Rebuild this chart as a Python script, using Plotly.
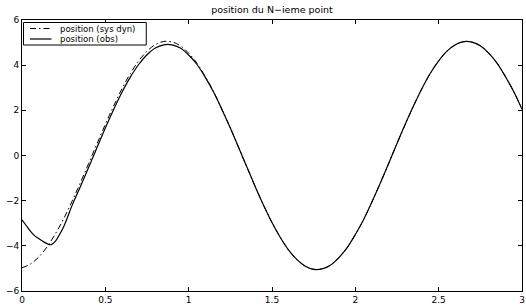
import plotly.graph_objects as go

# time samples and values
x_dyn = [0.00, 0.05, 0.10, 0.15, 0.20, 0.25, 0.30, 0.35, 0.40, 0.45, 0.50, 0.55, 0.60, 0.65,
         0.70, 0.75, 0.80, 0.85, 0.90, 0.95, 1.00, 1.05, 1.10, 1.15, 1.20, 1.25, 1.30, 1.35,
         1.40, 1.45, 1.50, 1.55, 1.60, 1.65, 1.70, 1.75, 1.80, 1.85, 1.90, 1.95, 2.00, 2.05,
         2.10, 2.15, 2.20, 2.25, 2.30, 2.35, 2.40, 2.45, 2.50, 2.55, 2.60, 2.65, 2.70, 2.75,
         2.80, 2.85, 2.90, 2.95, 3.00]
y_dyn = [-4.97, -4.81, -4.50, -4.05, -3.47, -2.80, -2.03, -1.21, -0.35, 0.52, 1.38, 2.19,
         2.96, 3.63, 4.19, 4.62, 4.91, 5.05, 5.03, 4.86, 4.53, 4.08, 3.49, 2.82, 2.04, 1.22,
         0.35, -0.52, -1.39, -2.21, -2.97, -3.63, -4.19, -4.61, -4.90, -5.04, -5.02, -4.86,
         -4.53, -4.09, -3.50, -2.83, -2.05, -1.22, -0.35, 0.53, 1.39, 2.21, 2.97, 3.64, 4.19,
         4.62, 4.90, 5.04, 5.02, 4.86, 4.53, 4.09, 3.50, 2.83, 2.05]

x_obs = [0.00, 0.025, 0.05, 0.075, 0.10, 0.125, 0.15, 0.175, 0.20, 0.225, 0.25, 0.275, 0.30,
         0.35, 0.40, 0.45, 0.50, 0.55, 0.60, 0.65, 0.70, 0.75, 0.80, 0.85, 0.90, 0.95, 1.00,
         1.05, 1.10, 1.15, 1.20, 1.25, 1.30, 1.35, 1.40, 1.45, 1.50, 1.55, 1.60, 1.65, 1.70,
         1.75, 1.80, 1.85, 1.90, 1.95, 2.00, 2.05, 2.10, 2.15, 2.20, 2.25, 2.30, 2.35, 2.40,
         2.45, 2.50, 2.55, 2.60, 2.65, 2.70, 2.75, 2.80, 2.85, 2.90, 2.95, 3.00]
y_obs = [-2.85, -3.10, -3.35, -3.55, -3.68, -3.80, -3.90, -3.95, -3.80, -3.50, -3.15, -2.70,
         -2.22, -1.38, -0.52, 0.35, 1.22, 2.04, 2.80, 3.47, 4.03, 4.46, 4.76, 4.90, 4.90, 4.76,
         4.45, 4.03, 3.46, 2.80, 2.03, 1.22, 0.35, -0.52, -1.39, -2.21, -2.97, -3.63, -4.19,
         -4.61, -4.90, -5.04, -5.02, -4.86, -4.53, -4.09, -3.50, -2.83, -2.05, -1.22, -0.35,
         0.53, 1.39, 2.21, 2.97, 3.64, 4.19, 4.62, 4.90, 5.04, 5.02, 4.86, 4.53, 4.09, 3.50,
         2.83, 2.05]

x_ticks = [0, 0.5, 1, 1.5, 2, 2.5, 3]
x_tick_labels = ["0", "0.5", "1", "1.5", "2", "2.5", "3"]
y_ticks = [-6, -4, -2, 0, 2, 4, 6]
y_tick_labels = ["\u22126", "\u22124", "\u22122", "0", "2", "4", "6"]

title_text = "position du N\u2212ieme point"
name_dyn = "position (sys dyn)"
name_obs = "position (obs)"

FONT = "DejaVu Sans"
DASHDOT = "6px,3px,1.5px,3px"

fig = go.Figure()
fig.add_trace(go.Scatter(x=x_dyn, y=y_dyn, mode="lines", name=name_dyn,
                         line=dict(color="black", width=1, dash=DASHDOT),
                         line_shape="spline", showlegend=False))
fig.add_trace(go.Scatter(x=x_obs, y=y_obs, mode="lines", name=name_obs,
                         line=dict(color="black", width=1.2), line_shape="spline",
                         showlegend=False))

axis_common = dict(showgrid=False, zeroline=False, showline=True, linecolor="black",
                   linewidth=1, mirror="ticks", ticks="inside", ticklen=4,
                   tickcolor="black", automargin=False, ticklabeloverflow="allow",
                   tickfont=dict(family=FONT, size=9, color="black"))
fig.update_xaxes(range=[0, 3], tickvals=x_ticks, ticktext=x_tick_labels, **axis_common)
fig.update_yaxes(range=[-6, 6], tickvals=y_ticks, ticktext=y_tick_labels, **axis_common)

# hand-drawn MATLAB-style legend box (paper coordinates of the plot area)
leg_x0, leg_x1, leg_y0, leg_y1 = 0.003, 0.2485, 0.9077, 0.9908
row_y = [0.9686, 0.9299]
sample_x0, sample_x1, text_x = 0.016, 0.059, 0.072
shapes = [dict(type="rect", xref="paper", yref="paper", x0=leg_x0, x1=leg_x1,
               y0=leg_y0, y1=leg_y1, line=dict(color="black", width=1),
               fillcolor="white", layer="above")]
shapes.append(dict(type="line", xref="paper", yref="paper", x0=sample_x0, x1=sample_x1,
                   y0=row_y[0], y1=row_y[0], line=dict(color="black", width=1, dash=DASHDOT),
                   layer="above"))
shapes.append(dict(type="line", xref="paper", yref="paper", x0=sample_x0, x1=sample_x1,
                   y0=row_y[1], y1=row_y[1], line=dict(color="black", width=1.2),
                   layer="above"))
annotations = [dict(xref="paper", yref="paper", x=text_x, y=ry, text=t, showarrow=False,
                    xanchor="left", yanchor="middle",
                    font=dict(family=FONT, size=8.5, color="black"))
               for ry, t in zip(row_y, [name_dyn, name_obs])]

fig.update_layout(
    width=526, height=305,
    margin=dict(l=22, r=4, t=20, b=14, autoexpand=False),
    paper_bgcolor="white", plot_bgcolor="white",
    title=dict(text=title_text, x=0.5, xref="paper", xanchor="center",
               y=1 - 9.5 / 305, yref="container", yanchor="middle",
               font=dict(family=FONT, size=9.5, color="black")),
    shapes=shapes, annotations=annotations,
    showlegend=False,
)

fig.write_html("out.html", config={"displayModeBar": False},
               post_script="document.body.style.margin='0px';")
